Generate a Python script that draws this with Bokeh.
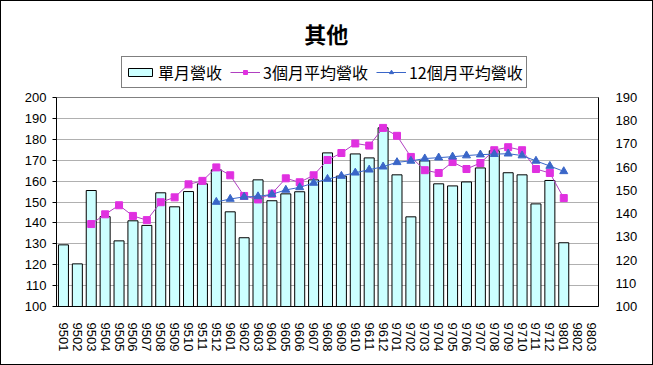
from bokeh.plotting import figure
from bokeh.layouts import column
from bokeh.models import (FactorRange, Range1d, LinearAxis, SingleIntervalTicker,
                          Legend, LegendItem, Label)
from bokeh.embed import file_html
from bokeh.resources import INLINE

months = ["9501", "9502", "9503", "9504", "9505", "9506", "9507", "9508", "9509", "9510",
          "9511", "9512", "9601", "9602", "9603", "9604", "9605", "9606", "9607", "9608",
          "9609", "9610", "9611", "9612", "9701", "9702", "9703", "9704", "9705", "9706",
          "9707", "9708", "9709", "9710", "9711", "9712", "9801", "9802", "9803"]

bar_months = months[:37]
monthly = [129.5, 120.4, 155.5, 143.0, 131.4, 141.0, 138.8, 154.4, 147.7, 155.0,
           158.7, 165.4, 145.3, 132.9, 160.6, 150.6, 153.9, 154.9, 160.6, 173.5,
           162.4, 173.0, 171.1, 185.5, 163.0, 142.9, 169.7, 158.7, 157.7, 159.6,
           166.3, 174.5, 164.0, 163.0, 149.1, 160.3, 130.5]

ma3_months = months[2:37]
ma3 = [135.5, 139.7, 143.6, 139.0, 137.2, 144.9, 147.0, 152.6, 154.1, 159.9,
       156.5, 147.6, 146.1, 148.6, 155.2, 153.5, 156.5, 163.1, 166.1, 170.2,
       169.3, 176.9, 173.5, 164.4, 158.7, 157.5, 162.2, 159.2, 161.8, 167.3,
       168.6, 167.3, 159.2, 157.5, 146.7]

ma12_months = months[11:37]
ma12 = [145.0, 146.3, 147.2, 147.4, 148.3, 150.2, 151.3, 153.2, 154.9, 156.2,
        157.6, 158.9, 160.2, 162.1, 162.7, 163.7, 164.1, 164.5, 165.0, 165.4,
        165.6, 165.8, 165.0, 162.7, 160.5, 158.2]

title_text = "其他"
legend_labels = ["單月營收", "3個月平均營收", "12個月平均營收"]

BAR_FILL = "#CCFFFF"
MA3_LINE, MA3_MARK = "#B040C0", "#E030E0"
MA12_COLOR = "#3A66C8"

W = 651
TOP_H = 89
MAIN_H = 274

# ---------- header (title + legend) ----------
top = figure(width=W, height=TOP_H, x_range=Range1d(0, W), y_range=Range1d(0, TOP_H),
             output_backend="svg", toolbar_location=None,
             min_border=0, min_border_left=0, min_border_right=0,
             min_border_top=0, min_border_bottom=0)
top.axis.visible = False
top.grid.visible = False
top.outline_line_color = None
top.title.visible = False
top.background_fill_color = "white"
top.border_fill_color = "white"

# proxy renderers (placed outside the visible range) that only feed the legend swatches
hb = top.vbar(x=[-500], top=[-500], bottom=[-510], width=1, fill_color=BAR_FILL, line_color="black")
hl3 = top.line([-500, -490], [-500, -500], line_color=MA3_LINE, line_width=1)
hs3 = top.scatter([-500], [-500], marker="square", size=7, fill_color=MA3_MARK, line_color=MA3_MARK)
hl12 = top.line([-500, -490], [-500, -500], line_color=MA12_COLOR, line_width=1)
hs12 = top.scatter([-500], [-500], marker="triangle", size=8, fill_color=MA12_COLOR, line_color=MA12_COLOR)

legend = Legend(items=[LegendItem(label=legend_labels[0], renderers=[hb]),
                       LegendItem(label=legend_labels[1], renderers=[hl3, hs3]),
                       LegendItem(label=legend_labels[2], renderers=[hl12, hs12])],
                location=(65, 2), orientation="horizontal",
                label_text_font="Noto Sans CJK TC", label_text_font_size="16px",
                label_text_color="black",
                glyph_width=30, glyph_height=10, label_standoff=3, spacing=8,
                padding=3, margin=0, border_line_color="black", border_line_width=1,
                background_fill_alpha=1.0, label_height=18)
top.add_layout(legend, "center")

top.add_layout(Label(x=324, y=TOP_H - 31, text=title_text,
                     text_align="center", text_baseline="middle",
                     text_font="Noto Sans CJK TC", text_font_size="22px",
                     text_font_style="bold", text_color="black"))

# ---------- main chart ----------
p = figure(width=W, height=MAIN_H, x_range=FactorRange(*months), y_range=Range1d(100, 200),
           output_backend="svg", toolbar_location=None,
           min_border_left=55, min_border_right=54, min_border_top=7, min_border_bottom=58)
p.title.visible = False
p.extra_y_ranges = {"right": Range1d(100, 190)}

p.background_fill_color = "white"
p.border_fill_color = "white"
p.outline_line_color = "#808080"
p.outline_line_width = 1

p.xgrid.grid_line_color = None
p.ygrid.grid_line_color = "#B0B0B0"
p.ygrid.ticker = SingleIntervalTicker(interval=10)

ax = p.yaxis[0]
ax.ticker = SingleIntervalTicker(interval=10)
ax.axis_line_color = "black"
ax.major_tick_line_color = "black"
ax.major_tick_out = 4
ax.major_tick_in = 0
ax.minor_tick_line_color = None
ax.major_label_text_font = "Liberation Sans"
ax.major_label_text_font_size = "13px"
ax.major_label_text_color = "black"
ax.major_label_standoff = 6

rax = LinearAxis(y_range_name="right", ticker=SingleIntervalTicker(interval=10))
rax.axis_line_color = "black"
rax.major_tick_line_color = None
rax.minor_tick_line_color = None
rax.major_label_text_font = "Liberation Sans"
rax.major_label_text_font_size = "13px"
rax.major_label_text_color = "black"
rax.major_label_standoff = 11
p.add_layout(rax, "right")

xa = p.xaxis[0]
xa.major_label_orientation = "vertical"
xa.axis_line_color = "black"
xa.major_tick_line_color = None
xa.major_label_text_font = "Liberation Sans"
xa.major_label_text_font_size = "13px"
xa.major_label_text_color = "black"
xa.major_label_standoff = 10

p.vbar(x=bar_months, top=monthly, bottom=100, width=0.72,
       fill_color=BAR_FILL, line_color="black", line_width=1)

p.line(ma3_months, ma3, y_range_name="right", line_color=MA3_LINE, line_width=1)
p.scatter(ma3_months, ma3, y_range_name="right", marker="square", size=7,
          fill_color=MA3_MARK, line_color=MA3_MARK)

p.line(ma12_months, ma12, y_range_name="right", line_color=MA12_COLOR, line_width=1)
p.scatter(ma12_months, ma12, y_range_name="right", marker="triangle", size=8,
          fill_color=MA12_COLOR, line_color=MA12_COLOR)

layout = column(top, p, spacing=0, styles={"border": "1px solid black"})

open("out.html", "w").write(file_html(layout, INLINE))
